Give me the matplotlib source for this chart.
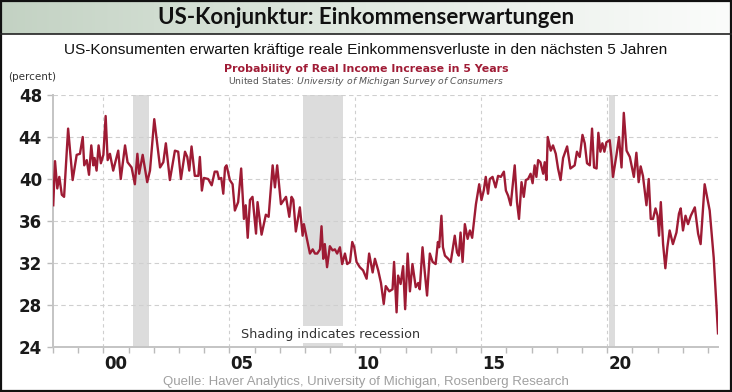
import numpy as np
import matplotlib
matplotlib.use("Agg")
import matplotlib.pyplot as plt
from matplotlib.patches import Rectangle
from matplotlib.lines import Line2D

# Probability of real income increase in 5 years (percent)
dates = [
    1998.01, 1998.08, 1998.17, 1998.25, 1998.35, 1998.44, 1998.60, 1998.78, 1998.94,
    1999.07, 1999.18, 1999.24, 1999.34, 1999.43, 1999.52, 1999.60, 1999.65, 1999.73,
    1999.81, 1999.90, 2000.00, 2000.09, 2000.17, 2000.26, 2000.39, 2000.59, 2000.69,
    2000.86, 2000.96, 2001.12, 2001.25, 2001.35, 2001.42, 2001.56, 2001.74, 2001.85,
    2002.02, 2002.25, 2002.38, 2002.48, 2002.64, 2002.84, 2002.97, 2003.08, 2003.24,
    2003.33, 2003.41, 2003.50, 2003.63, 2003.77, 2003.83, 2003.91, 2003.99, 2004.16,
    2004.30, 2004.42, 2004.52, 2004.59, 2004.68, 2004.76, 2004.83, 2004.89, 2005.02,
    2005.13, 2005.22, 2005.35, 2005.47, 2005.58, 2005.65, 2005.73, 2005.82, 2005.92,
    2006.06, 2006.12, 2006.28, 2006.45, 2006.56, 2006.72, 2006.81, 2006.90, 2007.05,
    2007.25, 2007.38, 2007.47, 2007.54, 2007.64, 2007.80, 2007.91, 2007.96, 2008.07,
    2008.20, 2008.31, 2008.40, 2008.49, 2008.60, 2008.66, 2008.73, 2008.79, 2008.88,
    2008.99, 2009.10, 2009.19, 2009.28, 2009.39, 2009.48, 2009.59, 2009.68, 2009.79,
    2009.88, 2009.96, 2010.05, 2010.18, 2010.31, 2010.45, 2010.55, 2010.69, 2010.78,
    2010.91, 2011.02, 2011.13, 2011.21, 2011.35, 2011.48, 2011.54, 2011.64, 2011.70,
    2011.80, 2011.90, 2011.98, 2012.08, 2012.17, 2012.27, 2012.40, 2012.50, 2012.56,
    2012.67, 2012.76, 2012.85, 2012.96, 2013.07, 2013.19, 2013.28, 2013.33, 2013.42,
    2013.48, 2013.56, 2013.69, 2013.79, 2013.95, 2014.04, 2014.11, 2014.18, 2014.26,
    2014.35, 2014.46, 2014.55, 2014.64, 2014.79, 2014.92, 2015.01, 2015.10, 2015.18,
    2015.27, 2015.34, 2015.45, 2015.57, 2015.67, 2015.78, 2015.90, 2015.98, 2016.07,
    2016.17, 2016.24, 2016.33, 2016.42, 2016.50, 2016.60, 2016.69, 2016.77, 2016.86,
    2016.96, 2017.04, 2017.12, 2017.19, 2017.26, 2017.35, 2017.46, 2017.52, 2017.59,
    2017.64, 2017.76, 2017.85, 2017.96, 2018.05, 2018.15, 2018.25, 2018.41, 2018.54,
    2018.71, 2018.80, 2018.91, 2019.02, 2019.11, 2019.20, 2019.31, 2019.40, 2019.48,
    2019.58, 2019.65, 2019.73, 2019.81, 2019.89, 2019.97, 2020.10, 2020.17, 2020.23,
    2020.37, 2020.47, 2020.57, 2020.66, 2020.77, 2020.90, 2021.06, 2021.16, 2021.25,
    2021.33, 2021.42, 2021.56, 2021.65, 2021.73, 2021.82, 2021.92, 2022.00, 2022.06,
    2022.13, 2022.22, 2022.31, 2022.39, 2022.48, 2022.61, 2022.75, 2022.85, 2022.92,
    2023.01, 2023.11, 2023.21, 2023.32, 2023.48, 2023.61, 2023.71, 2023.87, 2024.07,
    2024.23, 2024.40,
]
values = [
    37.5, 41.7, 39.1, 40.2, 38.5, 38.3, 44.8, 39.9, 42.3,
    42.4, 44.0, 41.3, 41.8, 40.4, 43.2, 41.3, 42.0, 40.8,
    43.2, 41.5, 42.3, 46.0, 41.8, 42.4, 40.8, 42.7, 40.0,
    43.2, 41.6, 41.1, 39.5, 42.4, 40.5, 42.3, 39.7, 40.8,
    45.7, 41.1, 41.6, 43.4, 39.9, 42.7, 42.6, 40.0, 42.6,
    42.1, 40.8, 43.1, 40.3, 40.3, 42.1, 38.9, 40.1, 40.0,
    39.4, 40.7, 40.7, 40.0, 40.1, 38.6, 41.1, 41.3, 39.9,
    39.5, 37.0, 37.8, 41.0, 36.2, 37.5, 34.4, 38.0, 38.3,
    34.8, 37.8, 34.7, 36.6, 36.4, 41.3, 39.2, 41.3, 37.6,
    38.3, 36.4, 38.3, 38.0, 35.0, 37.3, 34.6, 35.7, 34.4,
    32.9, 33.3, 32.9, 32.9, 33.3, 35.5, 32.4, 33.8, 31.6,
    33.6, 33.2, 33.3, 32.9, 33.5, 31.9, 32.9, 31.9, 32.1,
    34.0, 33.5, 32.1, 31.6, 31.3, 30.5, 32.9, 31.1, 32.4,
    31.3, 30.1, 28.1, 29.8, 29.3, 29.5, 32.1, 27.3, 30.8,
    30.0, 31.7, 27.6, 32.9, 29.3, 31.9, 29.7, 30.1, 29.5,
    33.5, 31.1, 28.9, 32.9, 32.1, 31.9, 34.0, 33.5, 36.5,
    33.5, 32.7, 32.4, 32.1, 34.6, 33.0, 32.7, 34.9, 32.1,
    35.7, 34.3, 35.1, 34.4, 37.6, 39.5, 38.0, 38.9, 40.2,
    38.6, 40.0, 40.2, 39.2, 40.3, 40.2, 40.7, 38.9, 38.4,
    37.5, 39.2, 41.3, 37.8, 36.2, 39.7, 38.3, 39.9, 40.0,
    40.5, 39.6, 41.3, 40.2, 41.8, 41.6, 40.5, 41.6, 39.9,
    44.0, 42.7, 43.2, 42.4, 41.0, 39.9, 42.0, 43.1, 41.0,
    41.3, 42.6, 42.1, 44.2, 43.4, 41.5, 41.3, 44.8, 41.1,
    41.0, 44.4, 42.6, 43.4, 42.6, 43.5, 43.7, 42.1, 40.2,
    42.3, 44.0, 41.1, 46.3, 42.7, 42.1, 40.2, 42.5, 39.7,
    41.2, 40.3, 37.5, 40.0, 36.2, 36.2, 37.2, 36.5, 34.6,
    37.8, 33.8, 31.5, 33.5, 35.1, 33.8, 34.9, 36.7, 37.2,
    35.1, 36.5, 35.7, 36.5, 37.3, 34.8, 33.8, 39.5, 37.0,
    32.5, 25.3,
]

# US recessions (start, end) in fractional years
recessions = [(2001.17, 2001.83), (2007.92, 2009.50), (2020.08, 2020.33)]

y_ticks = [24, 28, 32, 36, 40, 44, 48]
x_label_years = [2000, 2005, 2010, 2015, 2020]
x_labels = ["00", "05", "10", "15", "20"]

W, H = 732, 392
fig = plt.figure(figsize=(W / 100, H / 100), dpi=100)
fig.patch.set_facecolor("white")


def fx(px):
    return px / W


def fy(py):
    return 1 - py / H


# title band with a soft grey-green gradient
band = fig.add_axes([0, fy(34), 1, 34 / H])
grad = np.linspace(0, 1, 256).reshape(1, -1)
cmap = matplotlib.colors.LinearSegmentedColormap.from_list("band", ["#c3d2c3", "#e2eae2", "#fbfcfb"])
band.imshow(grad, aspect="auto", cmap=cmap, extent=[0, 1, 0, 1])
band.set_axis_off()

fig.text(0.5, fy(18), "US-Konjunktur: Einkommenserwartungen", ha="center", va="center",
         fontsize=16, fontweight="bold", family=["Lato", "DejaVu Sans"], color="#111111")
fig.add_artist(Line2D([0, 1], [fy(34), fy(34)], color="#222222", lw=1.2))
fig.add_artist(Rectangle((0.001, 0.002), 0.997, 0.996, fill=False, ec="#111111", lw=1.6))

fig.text(0.5, fy(50), "US-Konsumenten erwarten kräftige reale Einkommensverluste in den nächsten 5 Jahren",
         ha="center", va="center", fontsize=11.1,
         family=["Liberation Sans Narrow", "Liberation Sans"], color="#111111")
fig.text(0.5, fy(69), "Probability of Real Income Increase in 5 Years", ha="center", va="center",
         fontsize=7.9, fontweight="bold", color="#a01c36", family="DejaVu Sans")
fig.text(0.5, fy(81), "United States: $\\it{University\\ of\\ Michigan\\ Survey\\ of\\ Consumers}$",
         ha="center", va="center", fontsize=6.7, color="#555555", family="DejaVu Sans")
fig.text(fx(8), fy(77), "(percent)", ha="left", va="center", fontsize=7.5, color="#333333")

ax = fig.add_axes([fx(53), fy(347), fx(718 - 53), (347 - 95) / H])
for start, end in recessions:
    ax.axvspan(start, end, color="#dcdcdc", lw=0, zorder=0)
ax.plot(dates, values, color="#9e1b34", lw=1.7, zorder=3)

ax.set_xlim(1998.0, 2024.4)
ax.set_ylim(24, 48)
ax.set_yticks(y_ticks)
ax.set_yticklabels([str(v) for v in y_ticks])
ax.grid(axis="y", color="#cfcfcf", ls=(0, (4, 3)), lw=0.8)
for yr in x_label_years:
    ax.axvline(yr, color="#cfcfcf", ls=(0, (3, 3)), lw=0.8, zorder=1)

# ticks every year, labels centred in the middle of the year
ax.set_xticks(np.arange(1998, 2025))
ax.set_xticklabels([])
ax.set_xticks([y + 0.5 for y in x_label_years], minor=True)
ax.set_xticklabels(x_labels, minor=True)
ax.tick_params(axis="x", which="major", length=4, color="#bbbbbb", width=1)
ax.tick_params(axis="x", which="minor", length=0, pad=6)
ax.tick_params(axis="y", length=4, color="#bbbbbb", width=1, pad=4)
for lab in ax.get_xticklabels(minor=True) + ax.get_yticklabels():
    lab.set_fontsize(12)
    lab.set_fontweight("bold")
    lab.set_color("#1a1a1a")

for side in ["top", "right"]:
    ax.spines[side].set_visible(False)
for side in ["left", "bottom"]:
    ax.spines[side].set_color("#c4c4c4")
    ax.spines[side].set_linewidth(1.4)

ax.text(2009.0, 25.2, "Shading indicates recession", ha="center", va="center", fontsize=9.2,
        color="#333333", zorder=4, bbox=dict(fc="white", ec="none", pad=1.5))

fig.text(0.5, fy(382), "Quelle: Haver Analytics, University of Michigan, Rosenberg Research",
         ha="center", va="center", fontsize=9.5, family="Liberation Sans", color="#a0a0a0")

fig.savefig("out.png", dpi=100)
